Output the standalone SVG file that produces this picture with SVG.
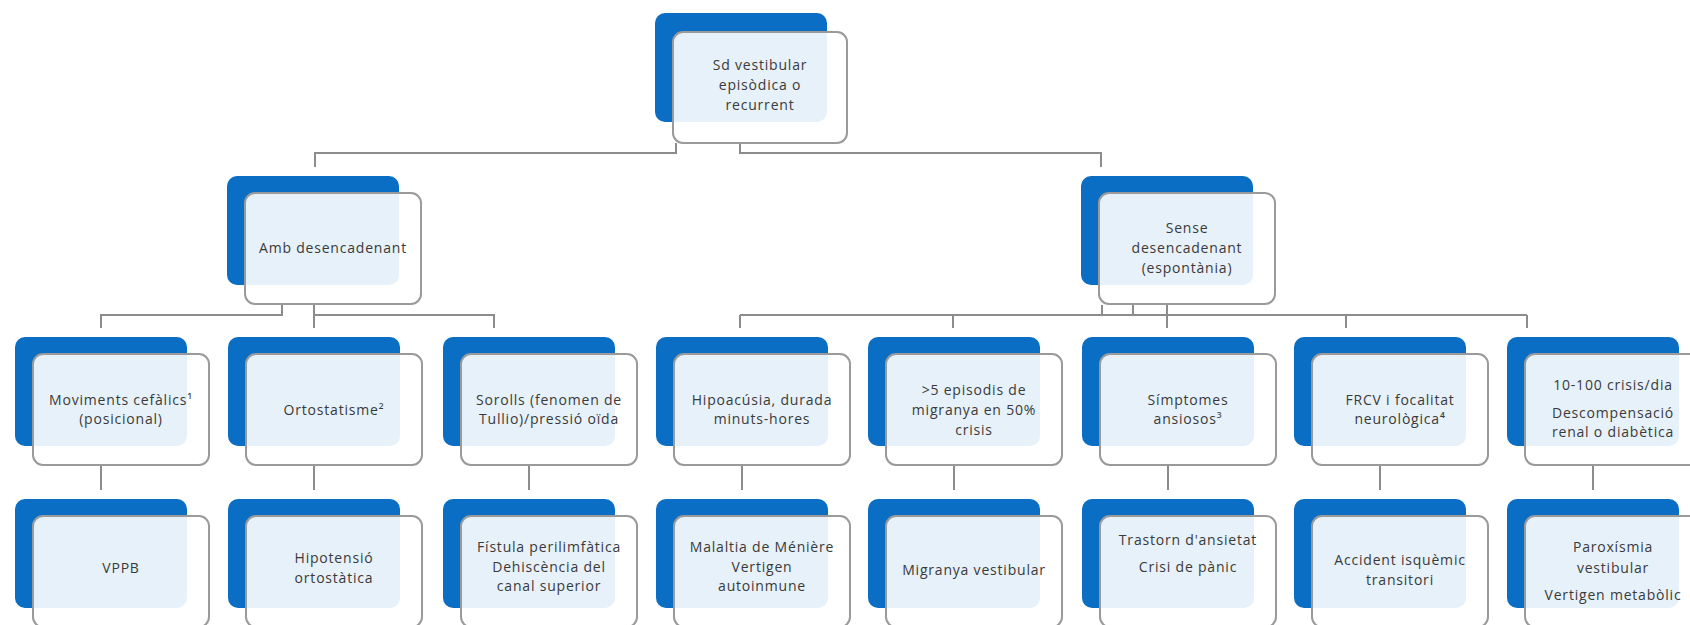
<svg xmlns="http://www.w3.org/2000/svg" width="1690" height="625" viewBox="0 0 1690 625">
  <defs>
    <style>
      .back { fill: #0a6ec4; }
      .front { fill: #ffffff; fill-opacity: 0.9; stroke: #9a9a9a; stroke-width: 2; }
      .t { font-family: "Open Sans", "Liberation Sans", sans-serif; font-size: 14px; letter-spacing: 0.8px; fill: #3a3a3a; text-anchor: middle; }
      .conn { fill: none; stroke: #8c8c8c; stroke-width: 2; }
    </style>
  </defs>
  <rect width="1690" height="625" fill="#ffffff"/>

  <!-- connectors -->
  <g id="connectors" class="conn">
    <path d="M676,143 V153 H315 V167"/>
    <path d="M740,143 V153 H1101 V167"/>
    <path d="M282,305 V315 H101 V328"/>
    <path d="M314,305 V328"/>
    <path d="M314,315 H494 V328"/>
    <path d="M1102,305 V315"/>
    <path d="M1133,305 V315"/>
    <path d="M1167,305 V328"/>
    <path d="M740,315 H1527"/>
    <path d="M740,315 V328"/>
    <path d="M953,315 V328"/>
    <path d="M1346,315 V328"/>
    <path d="M1527,315 V328"/>
    <path d="M101,465 V490"/>
    <path d="M314,465 V490"/>
    <path d="M529,465 V490"/>
    <path d="M742,465 V490"/>
    <path d="M954,465 V490"/>
    <path d="M1168,465 V490"/>
    <path d="M1380,465 V490"/>
    <path d="M1593,465 V490"/>
  </g>

  <!-- level 1 -->
  <g id="node-root">
    <rect class="back" x="655" y="13" width="172" height="109" rx="10"/>
    <rect class="front" x="673" y="32" width="174" height="111" rx="10"/>
    <text class="t"><tspan x="760" y="70">Sd vestibular</tspan><tspan x="760" y="90">episòdica o</tspan><tspan x="760" y="110">recurrent</tspan></text>
  </g>

  <!-- level 2 -->
  <g id="node-amb">
    <rect class="back" x="227" y="176" width="172" height="109" rx="10"/>
    <rect class="front" x="245" y="193" width="176" height="111" rx="10"/>
    <text class="t" x="333" y="253">Amb desencadenant</text>
  </g>
  <g id="node-sense">
    <rect class="back" x="1081" y="176" width="172" height="109" rx="10"/>
    <rect class="front" x="1099" y="193" width="176" height="111" rx="10"/>
    <text class="t"><tspan x="1187" y="233">Sense</tspan><tspan x="1187" y="253">desencadenant</tspan><tspan x="1187" y="273">(espontània)</tspan></text>
  </g>

  <!-- level 3 -->
  <g id="node-moviments">
    <rect class="back" x="15" y="337" width="172" height="109" rx="10"/>
    <rect class="front" x="33" y="354" width="176" height="111" rx="10"/>
    <text class="t"><tspan x="121" y="405">Moviments cefàlics¹</tspan><tspan x="121" y="424">(posicional)</tspan></text>
  </g>
  <g id="node-ortostatisme">
    <rect class="back" x="228" y="337" width="172" height="109" rx="10"/>
    <rect class="front" x="246" y="354" width="176" height="111" rx="10"/>
    <text class="t" x="334" y="415">Ortostatisme²</text>
  </g>
  <g id="node-sorolls">
    <rect class="back" x="443" y="337" width="172" height="109" rx="10"/>
    <rect class="front" x="461" y="354" width="176" height="111" rx="10"/>
    <text class="t"><tspan x="549" y="405">Sorolls (fenomen de</tspan><tspan x="549" y="424">Tullio)/pressió oïda</tspan></text>
  </g>
  <g id="node-hipoacusia">
    <rect class="back" x="656" y="337" width="172" height="109" rx="10"/>
    <rect class="front" x="674" y="354" width="176" height="111" rx="10"/>
    <text class="t"><tspan x="762" y="405">Hipoacúsia, durada</tspan><tspan x="762" y="424">minuts-hores</tspan></text>
  </g>
  <g id="node-migranya">
    <rect class="back" x="868" y="337" width="172" height="109" rx="10"/>
    <rect class="front" x="886" y="354" width="176" height="111" rx="10"/>
    <text class="t"><tspan x="974" y="395">&gt;5 episodis de</tspan><tspan x="974" y="415">migranya en 50%</tspan><tspan x="974" y="435">crisis</tspan></text>
  </g>
  <g id="node-simptomes">
    <rect class="back" x="1082" y="337" width="172" height="109" rx="10"/>
    <rect class="front" x="1100" y="354" width="176" height="111" rx="10"/>
    <text class="t"><tspan x="1188" y="405">Símptomes</tspan><tspan x="1188" y="424">ansiosos³</tspan></text>
  </g>
  <g id="node-frcv">
    <rect class="back" x="1294" y="337" width="172" height="109" rx="10"/>
    <rect class="front" x="1312" y="354" width="176" height="111" rx="10"/>
    <text class="t"><tspan x="1400" y="405">FRCV i focalitat</tspan><tspan x="1400" y="424">neurològica⁴</tspan></text>
  </g>
  <g id="node-crisis">
    <rect class="back" x="1507" y="337" width="172" height="109" rx="10"/>
    <rect class="front" x="1525" y="354" width="176" height="111" rx="10"/>
    <text class="t"><tspan x="1613" y="390">10-100 crisis/dia</tspan><tspan x="1613" y="418">Descompensació</tspan><tspan x="1613" y="437">renal o diabètica</tspan></text>
  </g>

  <!-- level 4 -->
  <g id="node-vppb">
    <rect class="back" x="15" y="499" width="172" height="109" rx="10"/>
    <rect class="front" x="33" y="516" width="176" height="111" rx="10"/>
    <text class="t" x="121" y="573">VPPB</text>
  </g>
  <g id="node-hipotensio">
    <rect class="back" x="228" y="499" width="172" height="109" rx="10"/>
    <rect class="front" x="246" y="516" width="176" height="111" rx="10"/>
    <text class="t"><tspan x="334" y="563">Hipotensió</tspan><tspan x="334" y="583">ortostàtica</tspan></text>
  </g>
  <g id="node-fistula">
    <rect class="back" x="443" y="499" width="172" height="109" rx="10"/>
    <rect class="front" x="461" y="516" width="176" height="111" rx="10"/>
    <text class="t"><tspan x="549" y="552">Fístula perilimfàtica</tspan><tspan x="549" y="572">Dehiscència del</tspan><tspan x="549" y="591">canal superior</tspan></text>
  </g>
  <g id="node-meniere">
    <rect class="back" x="656" y="499" width="172" height="109" rx="10"/>
    <rect class="front" x="674" y="516" width="176" height="111" rx="10"/>
    <text class="t"><tspan x="762" y="552">Malaltia de Ménière</tspan><tspan x="762" y="572">Vertigen</tspan><tspan x="762" y="591">autoinmune</tspan></text>
  </g>
  <g id="node-migranya-vestibular">
    <rect class="back" x="868" y="499" width="172" height="109" rx="10"/>
    <rect class="front" x="886" y="516" width="176" height="111" rx="10"/>
    <text class="t" x="974" y="575">Migranya vestibular</text>
  </g>
  <g id="node-ansietat">
    <rect class="back" x="1082" y="499" width="172" height="109" rx="10"/>
    <rect class="front" x="1100" y="516" width="176" height="111" rx="10"/>
    <text class="t"><tspan x="1188" y="545">Trastorn d'ansietat</tspan><tspan x="1188" y="572">Crisi de pànic</tspan></text>
  </g>
  <g id="node-ait">
    <rect class="back" x="1294" y="499" width="172" height="109" rx="10"/>
    <rect class="front" x="1312" y="516" width="176" height="111" rx="10"/>
    <text class="t"><tspan x="1400" y="565">Accident isquèmic</tspan><tspan x="1400" y="585">transitori</tspan></text>
  </g>
  <g id="node-paroxismia">
    <rect class="back" x="1507" y="499" width="172" height="109" rx="10"/>
    <rect class="front" x="1525" y="516" width="176" height="111" rx="10"/>
    <text class="t"><tspan x="1613" y="552">Paroxísmia</tspan><tspan x="1613" y="573">vestibular</tspan><tspan x="1613" y="600">Vertigen metabòlic</tspan></text>
  </g>
</svg>
